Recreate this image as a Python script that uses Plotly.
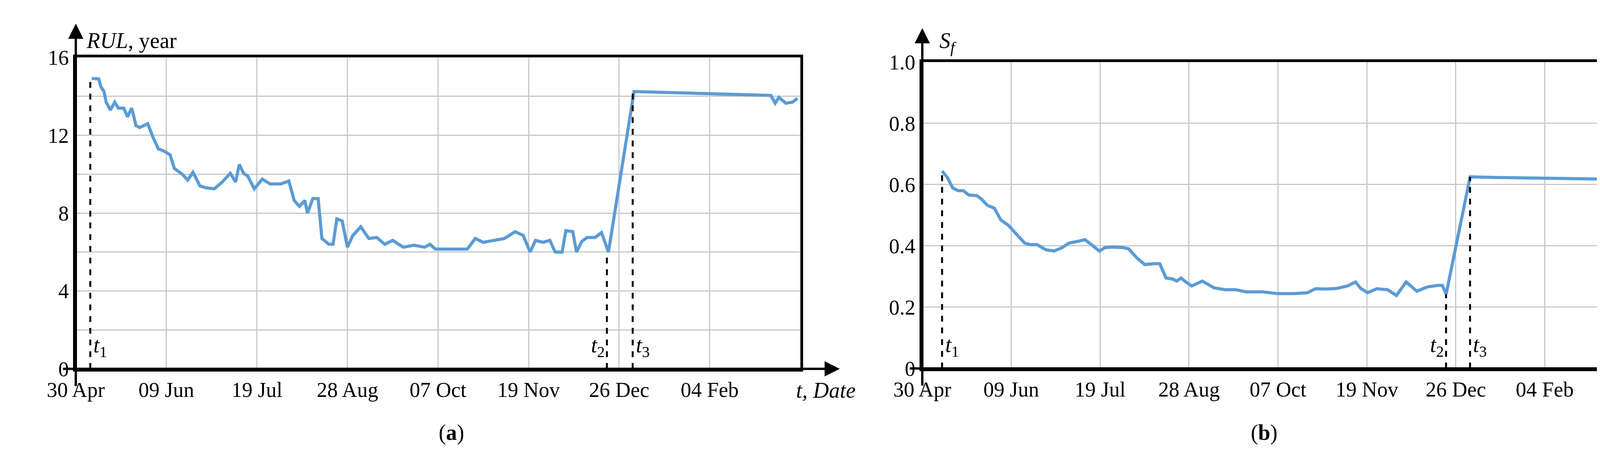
import plotly.graph_objects as go

# ---- data (x in days since 30 Apr) ----
tick_days = [0, 40, 80, 120, 160, 200, 240, 280]
tick_labels = ["30 Apr", "09 Jun", "19 Jul", "28 Aug", "07 Oct", "19 Nov", "26 Dec", "04 Feb"]

rul_px = [115,128,132,138,142,150,158,165,175,182,190,198,205,220,230,240,250,262,270,285,295,305,318,330,345,360,375,385,392,400,408,420,435,450,470,485,495,505,515,520,530,540,547,560,568,575,585,595,605,620,635,650,665,680,700,720,740,750,760,800,820,835,850,870,890,910,925,938,948,962,975,985,998,1005,1018,1025,1035,1045,1060,1072,1078,1085,1133,1390,1398,1405,1418,1430,1440]
rul_val = [14.92,14.9,14.5,14.25,13.7,13.3,13.7,13.4,13.4,12.95,13.4,12.5,12.4,12.6,11.9,11.3,11.2,11.0,10.3,10.0,9.7,10.1,9.4,9.3,9.25,9.6,10.05,9.6,10.5,10.05,9.9,9.25,9.75,9.5,9.5,9.65,8.65,8.35,8.65,8.0,8.75,8.75,6.7,6.4,6.4,7.7,7.6,6.25,6.85,7.3,6.7,6.75,6.4,6.6,6.25,6.35,6.25,6.4,6.15,6.15,6.15,6.7,6.5,6.6,6.7,7.05,6.85,6.0,6.6,6.5,6.6,6.0,6.0,7.1,7.05,6.0,6.55,6.75,6.75,7.0,6.55,6.0,14.25,14.05,13.65,13.95,13.65,13.7,13.9]
rul_days = [(p - 85) * 40 / 170 for p in rul_px]

sf_px = [160,170,180,190,200,210,225,235,245,258,270,285,300,315,325,338,355,370,385,398,415,428,440,455,465,480,500,510,525,540,558,568,580,592,600,608,615,628,648,670,690,710,730,760,790,820,845,860,880,900,920,935,945,958,975,995,1012,1030,1050,1070,1090,1098,1105,1150,1200,1300,1395,1410,1440]
sf_val = [0.644,0.623,0.589,0.58,0.58,0.566,0.564,0.551,0.532,0.523,0.485,0.466,0.437,0.409,0.404,0.404,0.387,0.383,0.394,0.409,0.415,0.42,0.404,0.383,0.394,0.396,0.394,0.39,0.361,0.339,0.342,0.342,0.295,0.292,0.285,0.295,0.285,0.269,0.285,0.263,0.257,0.257,0.25,0.25,0.244,0.244,0.247,0.26,0.259,0.261,0.269,0.282,0.261,0.247,0.26,0.257,0.238,0.282,0.252,0.266,0.271,0.271,0.242,0.625,0.623,0.621,0.618,0.608,0.599]
sf_days = [(p - 123) * 40 / 166.7 for p in sf_px]

t_a = [6.4, 234.6, 246.0]
t_a_top = [14.92, 6.0, 14.25]
t_b = [8.9, 235.6, 246.4]
t_b_top = [0.644, 0.242, 0.625]
t_names = ["1", "2", "3"]

BLUE = "#5B9BD5"
FONT = "Liberation Serif"
fig = go.Figure()

fig.add_trace(go.Scatter(x=rul_days, y=rul_val, mode="lines", line=dict(color=BLUE, width=8), xaxis="x", yaxis="y"))
fig.add_trace(go.Scatter(x=sf_days, y=sf_val, mode="lines", line=dict(color=BLUE, width=8), xaxis="x2", yaxis="y2"))
for tx, ty in zip(t_a, t_a_top):
    fig.add_trace(go.Scatter(x=[tx, tx], y=[0, ty], mode="lines", line=dict(color="black", width=5, dash="dash"), xaxis="x", yaxis="y"))
for tx, ty in zip(t_b, t_b_top):
    fig.add_trace(go.Scatter(x=[tx, tx], y=[0, ty], mode="lines", line=dict(color="black", width=5, dash="dash"), xaxis="x2", yaxis="y2"))

W, H = 4299, 1217
dom = {"a": dict(x=[114/W, 2001/W], y=[1-955/H, 1-116/H]),
       "b": dict(x=[2319/W, 4172/W], y=[1-954/H, 1-128/H])}

xcommon = dict(range=[0, 320], tickvals=tick_days, ticktext=tick_labels, showgrid=True,
               gridcolor="#c8c8c8", gridwidth=3, showline=True, linecolor="black", linewidth=7,
               mirror=True, ticks="", zeroline=False, tickfont=dict(family=FONT, size=54, color="black"))
ycommon = dict(showgrid=True, gridcolor="#c8c8c8", gridwidth=3, showline=True, linecolor="black",
               linewidth=7, mirror=True, ticks="", zeroline=False, tickfont=dict(family=FONT, size=54, color="black"))

fig.update_layout(
    width=W, height=H, margin=dict(l=0, r=0, t=0, b=0), showlegend=False,
    plot_bgcolor="white", paper_bgcolor="white",
    xaxis=dict(domain=dom["a"]["x"], anchor="y", **xcommon),
    yaxis=dict(domain=dom["a"]["y"], anchor="x", range=[0, 16], tickvals=list(range(0, 17, 2)),
               ticktext=["0", "", "4", "", "8", "", "12", "", "16"], **ycommon),
    xaxis2=dict(domain=dom["b"]["x"], anchor="y2", **xcommon),
    yaxis2=dict(domain=dom["b"]["y"], anchor="x2", range=[0, 1], tickvals=[0, 0.2, 0.4, 0.6, 0.8, 1.0],
                ticktext=["0", "0.2", "0.4", "0.6", "0.8", "1.0"], **ycommon),
)

ann = []
def arrows(xl, xr, yb, yt):
    ytop = yt + 0.075
    ann.append(dict(x=xl, y=ytop, xref="paper", yref="paper", ax=0, ay=(ytop - yb) * H, axref="pixel", ayref="pixel",
                    showarrow=True, arrowhead=2, arrowsize=1.3, arrowwidth=6, arrowcolor="black", text=""))
    xend = xr + 0.024
    ann.append(dict(x=xend, y=yb, xref="paper", yref="paper", ax=-(xend - xl) * W, ay=0, axref="pixel", ayref="pixel",
                    showarrow=True, arrowhead=2, arrowsize=1.3, arrowwidth=6, arrowcolor="black", text=""))
arrows(dom["a"]["x"][0], dom["a"]["x"][1], dom["a"]["y"][0], dom["a"]["y"][1])
arrows(dom["b"]["x"][0], dom["b"]["x"][1], dom["b"]["y"][0], dom["b"]["y"][1])

f = dict(family=FONT, size=56, color="black")
ann.append(dict(x=dom["a"]["x"][0] + 0.006, y=1-70/H, xref="paper", yref="paper", xanchor="left", yanchor="middle",
                text="<i>RUL</i>, year", showarrow=False, font=f))
ann.append(dict(x=dom["b"]["x"][0] + 0.01, y=1-75/H, xref="paper", yref="paper", xanchor="left", yanchor="middle",
                text="<i>S<sub>f</sub></i>", showarrow=False, font=f))
for xr in (dom["a"]["x"][1], dom["b"]["x"][1]):
    ann.append(dict(x=xr + 0.034, y=1-1013/H, xref="paper", yref="paper", xanchor="right", yanchor="middle",
                    text="<i>t, Date</i>", showarrow=False, font=f))
ann.append(dict(x=(dom["a"]["x"][0] + dom["a"]["x"][1]) / 2, y=1-1162/H, xref="paper", yref="paper",
                text="(<b>a</b>)", showarrow=False, font=f))
ann.append(dict(x=(dom["b"]["x"][0] + dom["b"]["x"][1]) / 2, y=1-1162/H, xref="paper", yref="paper",
                text="(<b>b</b>)", showarrow=False, font=f))
for (xs, xa, ya, yl) in ((t_a, "x", "y", 0.4), (t_b, "x2", "y2", 0.025)):
    for i, (tx, nm) in enumerate(zip(xs, t_names)):
        left = (i == 1)
        ann.append(dict(x=tx, y=yl, xref=xa, yref=ya,
                        xanchor="right" if left else "left", yanchor="bottom", xshift=-4 if left else 6,
                        text=f"<i>t</i><sub>{nm}</sub>", showarrow=False, font=f))
fig.update_layout(annotations=ann)
fig.write_html("out.html")
